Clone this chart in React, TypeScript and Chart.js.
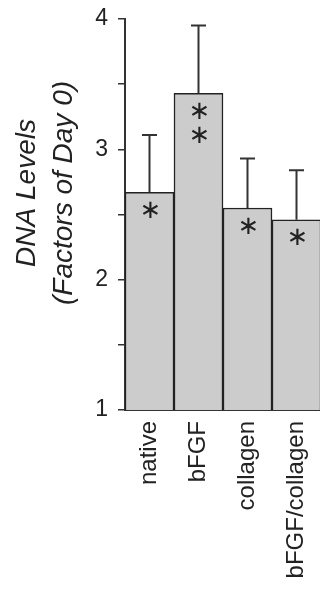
import React, { useEffect, useRef } from "react";
import { Chart, registerables } from "chart.js";

Chart.register(...registerables);

// ---- data ----
const categories = ["native", "bFGF", "collagen", "bFGF/collagen"];
const means = [2.67, 3.43, 2.55, 2.46];
const errors = [0.44, 0.52, 0.38, 0.38];
const asteriskCounts = [1, 2, 1, 1];
const yTitleLines = ["DNA Levels", "(Factors of Day 0)"];
const yMin = 1;
const yMax = 4;
const yStep = 0.5;

const FONT = "'Liberation Sans', Arial, Helvetica, sans-serif";
const INK = "#222222";

const errorBarPlugin = {
  id: "errorBars",
  afterDatasetsDraw(chart: any) {
    const ctx = chart.ctx;
    const yScale = chart.scales.y;
    const meta = chart.getDatasetMeta(0);
    ctx.save();
    ctx.strokeStyle = "#333333";
    ctx.lineWidth = 2;
    meta.data.forEach((bar: any, i: number) => {
      const top = yScale.getPixelForValue(means[i] + errors[i]);
      const x = bar.x;
      ctx.beginPath();
      ctx.moveTo(x, bar.y);
      ctx.lineTo(x, top);
      ctx.moveTo(x - 7.5, top);
      ctx.lineTo(x + 7.5, top);
      ctx.stroke();
    });
    ctx.restore();
  },
};

const asteriskPlugin = {
  id: "asterisks",
  afterDatasetsDraw(chart: any) {
    const ctx = chart.ctx;
    const meta = chart.getDatasetMeta(0);
    ctx.save();
    ctx.fillStyle = INK;
    ctx.font = "26px 'DejaVu Sans'";
    ctx.textAlign = "center";
    ctx.textBaseline = "middle";
    meta.data.forEach((bar: any, i: number) => {
      for (let k = 0; k < asteriskCounts[i]; k++) {
        ctx.fillText("\u2217", bar.x + 1, bar.y + 19 + k * 24);
      }
    });
    ctx.restore();
  },
};

const yTitlePlugin = {
  id: "yTitle",
  afterDraw(chart: any) {
    const ctx = chart.ctx;
    const area = chart.chartArea;
    const cy = area.top + (area.bottom - area.top) * 0.445;
    const baselines = [35, 72];
    ctx.save();
    ctx.fillStyle = INK;
    ctx.font = `italic 28px ${FONT}`;
    ctx.textAlign = "center";
    ctx.textBaseline = "alphabetic";
    yTitleLines.forEach((line, i) => {
      ctx.save();
      ctx.translate(baselines[i], cy);
      ctx.rotate(-Math.PI / 2);
      ctx.fillText(line, 0, 0);
      ctx.restore();
    });
    ctx.restore();
  },
};

export default function App() {
  const ref = useRef<HTMLCanvasElement | null>(null);

  useEffect(() => {
    if (!ref.current) return;
    const chart = new Chart(ref.current, {
      type: "bar",
      data: {
        labels: categories,
        datasets: [
          {
            data: means,
            backgroundColor: "#cccccc",
            borderColor: INK,
            borderWidth: 1.5,
            barPercentage: 1,
            categoryPercentage: 1,
          },
        ],
      },
      options: {
        responsive: false,
        animation: false,
        layout: { padding: { top: 19, right: 0, left: 0, bottom: 0 } },
        plugins: {
          legend: { display: false },
          tooltip: { enabled: false },
          title: { display: false },
        },
        scales: {
          x: {
            offset: true,
            grid: { display: true, drawOnChartArea: false, drawTicks: false },
            border: { display: true, color: "#333333", width: 2 },
            ticks: {
              minRotation: 90,
              maxRotation: 90,
              autoSkip: false,
              padding: 11,
              color: INK,
              font: { family: FONT, size: 24 },
            },
            afterFit(scale: any) {
              scale.height = 181;
              scale.paddingLeft = 0;
              scale.paddingRight = 0;
            },
          },
          y: {
            min: yMin,
            max: yMax,
            grid: {
              drawOnChartArea: false,
              drawTicks: true,
              tickLength: 7,
              color: "#333333",
              lineWidth: 1.5,
            },
            border: { display: true, color: "#333333", width: 2 },
            ticks: {
              stepSize: yStep,
              padding: 10,
              color: INK,
              font: { family: FONT, size: 23 },
              callback: (v: any) => (Number.isInteger(v) ? String(v) : ""),
            },
            afterFit(scale: any) {
              scale.width = 125;
              scale.paddingTop = 0;
              scale.paddingBottom = 0;
            },
          },
        },
      },
      plugins: [errorBarPlugin, asteriskPlugin, yTitlePlugin],
    });
    return () => chart.destroy();
  }, []);

  return (
    <div
      style={{
        position: "absolute",
        left: 0,
        top: 0,
        width: 320,
        height: 591,
        overflow: "hidden",
        background: "#ffffff",
      }}
    >
      <canvas ref={ref} width={321} height={591} style={{ display: "block" }} />
    </div>
  );
}
